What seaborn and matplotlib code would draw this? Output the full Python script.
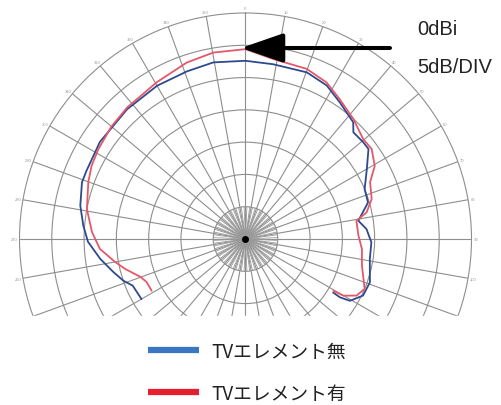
import numpy as np
import pandas as pd
import matplotlib
matplotlib.use("Agg")
import matplotlib.pyplot as plt
import seaborn as sns
from matplotlib.lines import Line2D
from matplotlib.patches import Rectangle

# radiation pattern, angle in degrees clockwise from top, gain in dBi
blue_deg = [-120, -112.5, -108.8, -104, -97.8, -91, -85.3, -78.6, -70.9, -67,
            -56.3, -42.4, -30, -19.2, -10.3, 0, 9, 20.2, 27.9, 34.7, 42.7, 45.3,
            50.6, 53.8, 60, 67.3, 73.4, 80.8, 85.3, 91.5, 99.1, 109.2, 115.7,
            120.6, 121.7, 121.4]
blue_db = [-11.4, -11.1, -10.0, -8.9, -7.3, -5.6, -4.8, -3.9, -3.2, -3.2,
           -2.9, -2.8, -2.6, -2.5, -2.2, -2.4, -2.6, -2.5, -3.1, -4.3, -5.4, -6.5,
           -6.4, -6.4, -8.3, -10.0, -10.2, -12.3, -11.2, -10.5, -10.5, -9.6, -9.8,
           -11.2, -12.8, -14.1]

red_deg = [-118.9, -113.5, -109.8, -104, -100, -93.9, -87.4, -79.3, -70, -64.5,
           -58.6, -50, -42, -29.5, -18.4, -9.8, 0, 8.8, 19.8, 27.4, 34, 41.9,
           49.7, 54.5, 60.5, 65.5, 72.4, 77.6, 80.7, 88.3, 94.9, 102.9, 112.7,
           117, 120.1, 120.5]
red_db = [-13.4, -13.3, -12.7, -10.8, -9.5, -7.4, -6.2, -5.0, -4.1, -3.6,
          -3.3, -2.9, -2.6, -2.1, -1.2, -0.7, -0.6, -1.8, -2.0, -2.7, -3.9, -5.0,
          -6.1, -6.0, -7.0, -8.8, -9.5, -10.8, -12.6, -12.5, -11.9, -11.5, -10.0,
          -10.7, -12.5, -14.2]

series_names = ["TVエレメント無", "TVエレメント有"]
line_colors = ["#2d4a8f", "#e4586a"]
legend_colors = ["#3a76c2", "#e51f2e"]

ring_db = [-25, -20, -15, -10, -5, 0]
angle_ticks = list(range(0, 360, 10))

df = pd.concat([
    pd.DataFrame({"deg": blue_deg, "dB": blue_db, "series": series_names[0]}),
    pd.DataFrame({"deg": red_deg, "dB": red_db, "series": series_names[1]}),
])
df["theta"] = np.deg2rad(df["deg"])

sns.set_style("white")
plt.rcParams["font.family"] = ["Liberation Sans", "Noto Sans CJK JP", "DejaVu Sans"]

fig = plt.figure(figsize=(5.02, 4.06), dpi=100)
fig.patch.set_facecolor("white")

# polar chart: centre at (245.5, 240) px, outer ring radius 226 px
cx, cy, R = 245.5, 240, 226
ax = fig.add_axes([(cx - R) / 502, (406 - cy - R) / 406, 2 * R / 502, 2 * R / 406],
                  projection="polar")
ax.set_theta_zero_location("N")
ax.set_theta_direction(-1)
ax.set_rlim(-30, 5)
ax.set_yticks(ring_db)
ax.set_yticklabels([])
# only the angle labels above the crop line are shown
tick_labels = [str(a) if (a <= 100 or a >= 260) else "" for a in angle_ticks]
ax.set_xticks(np.deg2rad(angle_ticks))
ax.set_xticklabels(tick_labels, fontsize=3, color="#999999")
ax.tick_params(axis="x", pad=-7)
ax.grid(True, color="#8e8e8e", lw=0.8)
ax.spines["polar"].set_color("#8e8e8e")
ax.spines["polar"].set_linewidth(0.8)

# finer spokes close to the centre
for a in np.arange(2.5, 360, 5):
    ax.plot([np.deg2rad(a)] * 2, [-30, -25], color="#9a9a9a", lw=0.6, zorder=1)
ax.plot([0], [-30], "o", color="black", ms=4, zorder=2)

sns.lineplot(data=df, x="theta", y="dB", hue="series", palette=line_colors,
             sort=False, estimator=None, lw=1.3, legend=False, ax=ax)
ax.set_xlabel("")
ax.set_ylabel("")

# overlay in pixel coordinates for crop, arrow, notes and legend
ov = fig.add_axes([0, 0, 1, 1])
ov.set_xlim(0, 502)
ov.set_ylim(406, 0)
ov.axis("off")
ov.patch.set_alpha(0)
ov.add_patch(Rectangle((0, 317), 502, 100, color="white", zorder=0))

ov.annotate("", xy=(241, 49), xytext=(390, 49),
            arrowprops=dict(arrowstyle="-|>,head_length=2.6,head_width=0.9",
                            lw=2.9, color="black", shrinkA=0, shrinkB=0))
ov.text(417, 35, "0dBi", fontsize=14.5, va="baseline", ha="left", color="#222222")
ov.text(417, 73, "5dB/DIV", fontsize=14.5, va="baseline", ha="left", color="#222222")

handles = [Line2D([], [], color=c, lw=4.5, solid_capstyle="butt") for c in legend_colors]
leg = ov.legend(handles, series_names, loc="upper left",
                bbox_to_anchor=(148 / 502, 1 - 342 / 406), frameon=False,
                borderpad=0, borderaxespad=0, handlelength=2.7, handletextpad=0.7,
                labelspacing=1.12, prop={"family": ["Noto Sans CJK JP"], "size": 13.5})
for t in leg.get_texts():
    t.set_color("#222222")

fig.savefig("out.png", dpi=100)
